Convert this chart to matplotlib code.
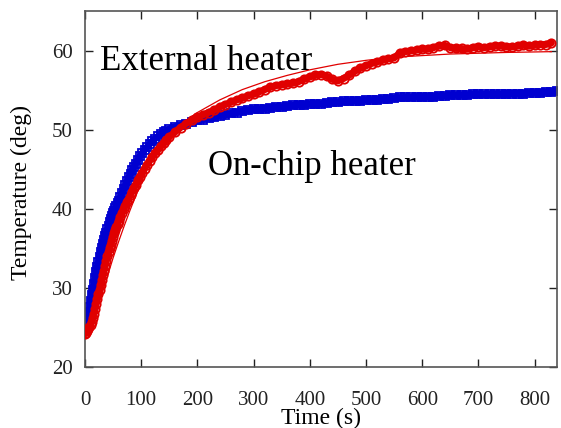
import matplotlib
matplotlib.use("Agg")
import matplotlib.pyplot as plt

plt.rcParams['font.family'] = ['Liberation Serif', 'DejaVu Serif']

# external heater, measured (red circles)
t_ext = [0, 2, 4, 6, 8, 10, 12, 14, 16, 18, 20, 22, 24, 26, 28, 30, 32, 34, 36, 38,
         40, 42, 44, 46, 48, 50, 52, 54, 56, 58, 60, 63, 66, 69, 72, 75, 78, 81, 84, 87,
         90, 94, 98, 102, 106, 110, 115, 120, 125, 130, 135, 140, 145, 150, 160, 170, 180, 190, 200, 210,
         220, 230, 240, 250, 260, 270, 280, 290, 300, 310, 320, 330, 340, 350, 360, 370, 380, 390, 400, 410,
         420, 430, 440, 450, 460, 470, 480, 490, 500, 510, 520, 530, 540, 550, 560, 570, 580, 590, 600, 610,
         620, 630, 640, 650, 660, 670, 680, 690, 700, 710, 720, 730, 740, 750, 760, 770, 780, 790, 800, 810,
         820, 830]
T_ext = [24.2, 24.3, 24.5, 24.8, 25.0, 25.3, 25.7, 26.2, 26.7, 27.3, 28.0, 28.6, 29.2, 29.8, 30.4, 31.0, 31.6, 32.2, 32.8, 33.4,
         34.0, 34.5, 35.0, 35.5, 36.0, 36.5, 36.9, 37.3, 37.7, 38.1, 38.5, 39.0, 39.5, 40.0, 40.4, 40.9, 41.3, 41.8, 42.2, 42.6,
         43.0, 43.6, 44.1, 44.6, 45.1, 45.6, 46.1, 46.6, 47.1, 47.5, 47.9, 48.3, 48.7, 49.1, 49.7, 50.3, 50.8, 51.2, 51.6, 51.9,
         52.2, 52.5, 52.9, 53.2, 53.5, 53.8, 54.0, 54.3, 54.5, 54.8, 55.1, 55.4, 55.6, 55.7, 55.8, 55.9, 56.1, 56.4, 56.7, 56.9,
         57.0, 56.8, 56.4, 56.2, 56.5, 56.9, 57.4, 57.8, 58.1, 58.4, 58.6, 58.8, 59.0, 59.1, 59.7, 59.9, 60.0, 60.1, 60.2, 60.2,
         60.4, 60.6, 60.7, 60.4, 60.3, 60.3, 60.2, 60.4, 60.5, 60.4, 60.5, 60.6, 60.6, 60.5, 60.5, 60.6, 60.7, 60.6, 60.7, 60.8,
         60.8, 61.0]

# external heater, fitted curve (thin red line)
t_fit = [0, 10, 20, 30, 40, 50, 60, 70, 80, 90, 100, 110, 120, 140, 160, 180, 200, 240, 280, 320,
         360, 400, 450, 500, 550, 600, 650, 700, 750, 830]
T_fit = [24.0, 25.2, 27.0, 29.2, 31.5, 33.8, 35.9, 37.9, 39.8, 41.6, 43.4, 45.0, 46.3, 48.4, 50.0, 51.2, 52.2, 53.8, 55.1, 56.1,
         56.9, 57.6, 58.3, 58.8, 59.2, 59.4, 59.6, 59.7, 59.8, 59.9]

# on-chip heater, measured (blue squares)
t_chip = [0, 2, 4, 6, 8, 10, 12, 14, 16, 18, 20, 22, 24, 26, 28, 30, 32, 34, 36, 38,
          40, 42, 44, 46, 48, 50, 52, 54, 56, 58, 60, 63, 66, 69, 72, 75, 78, 81, 84, 87,
          90, 94, 98, 102, 106, 110, 115, 120, 125, 130, 135, 140, 145, 150, 160, 170, 180, 190, 200, 210,
          220, 230, 240, 250, 260, 270, 280, 290, 300, 310, 320, 330, 340, 350, 360, 370, 380, 390, 400, 410,
          420, 430, 440, 450, 460, 470, 480, 490, 500, 510, 520, 530, 540, 550, 560, 570, 580, 590, 600, 610,
          620, 630, 640, 650, 660, 670, 680, 690, 700, 710, 720, 730, 740, 750, 760, 770, 780, 790, 800, 810,
          820, 830, 840]
T_chip = [25.0, 25.5, 26.1, 26.8, 27.6, 28.4, 29.1, 29.8, 30.5, 31.3, 32.0, 32.7, 33.3, 33.9, 34.5, 35.0, 35.6, 36.1, 36.6, 37.0,
          37.5, 37.9, 38.3, 38.7, 39.1, 39.5, 39.8, 40.1, 40.4, 40.7, 41.0, 41.5, 42.0, 42.5, 43.0, 43.5, 44.0, 44.4, 44.9, 45.3,
          45.7, 46.2, 46.7, 47.1, 47.5, 47.8, 48.2, 48.6, 48.9, 49.2, 49.5, 49.7, 49.9, 50.1, 50.4, 50.6, 50.8, 51.0, 51.2, 51.3,
          51.5, 51.6, 51.8, 51.9, 52.1, 52.2, 52.4, 52.5, 52.6, 52.6, 52.7, 52.8, 52.9, 52.9, 53.0, 53.1, 53.2, 53.2, 53.3, 53.3,
          53.3, 53.4, 53.5, 53.5, 53.6, 53.6, 53.7, 53.7, 53.8, 53.8, 53.8, 53.9, 53.9, 54.0, 54.1, 54.1, 54.1, 54.2, 54.2, 54.2,
          54.2, 54.3, 54.3, 54.4, 54.4, 54.4, 54.4, 54.5, 54.5, 54.5, 54.5, 54.5, 54.5, 54.6, 54.6, 54.6, 54.6, 54.7, 54.7, 54.7,
          54.8, 54.8, 54.9]

x_ticks = [0, 100, 200, 300, 400, 500, 600, 700, 800]
y_ticks = [20, 30, 40, 50, 60]

red = '#e00000'
blue = '#0000d0'

fig = plt.figure(figsize=(5.61, 4.28), dpi=100)
ax = fig.add_axes([0.1515, 0.1425, 0.8415, 0.831])

# thick band under the dense markers, as in the original
ax.plot(t_chip, T_chip, '-', color=blue, lw=5, zorder=2, solid_capstyle='round')
ax.plot(t_chip, T_chip, 's', color=blue, mfc='none', mew=1.3, ms=6, zorder=2)
ax.plot(t_chip, T_chip, '+', color=blue, mew=1.0, ms=6, zorder=2)
ax.plot(t_ext, T_ext, '-', color=red, lw=5, zorder=3, solid_capstyle='round')
ax.plot(t_ext, T_ext, 'o', color=red, mfc='none', mew=1.3, ms=6, zorder=3)
ax.plot(t_fit, T_fit, '-', color=red, lw=0.9, zorder=4)

ax.text(27, 57.6, "External heater", fontsize=25, va='baseline')
ax.text(219, 44.3, "On-chip heater", fontsize=25, va='baseline')

ax.set_xlim(0, 840)
ax.set_ylim(20, 65)
ax.set_xticks(x_ticks)
ax.set_yticks(y_ticks)
ax.tick_params(direction='in', length=6, width=1, top=True, right=True,
               labelsize=15, colors='#222222')
ax.tick_params(axis='x', pad=17)
ax.tick_params(axis='y', pad=9)
for s in ax.spines.values():
    s.set_color('#555555')
    s.set_linewidth(1.2)

ax.set_xlabel("Time (s)", fontsize=17)
ax.xaxis.set_label_coords(0.5, -0.115)
ax.set_ylabel("Temperature (deg)", fontsize=17)
ax.yaxis.set_label_coords(-0.112, 0.49)

fig.savefig("out.png", dpi=100)
